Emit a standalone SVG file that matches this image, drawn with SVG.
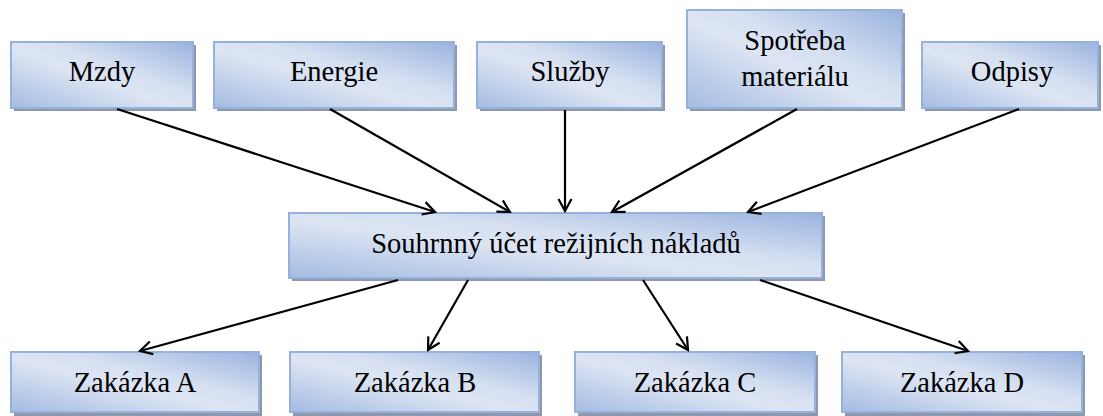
<svg xmlns="http://www.w3.org/2000/svg" width="1103" height="416" viewBox="0 0 1103 416">
<defs>
<linearGradient id="g" x1="0" y1="1" x2="1" y2="0">
<stop offset="0" stop-color="#a4bbe2"/>
<stop offset="0.45" stop-color="#dde5f3"/>
<stop offset="0.6" stop-color="#d6e0f1"/>
<stop offset="1" stop-color="#9ab3df"/>
</linearGradient>
<marker id="ah" markerUnits="userSpaceOnUse" markerWidth="16" markerHeight="16" viewBox="0 0 16 16" refX="14" refY="8" orient="auto">
<path d="M2,1.5 L14,8 L2,14.5" fill="none" stroke="#000" stroke-width="2.2"/>
</marker>
</defs>
<style>
.sh{fill:#8d98ad}
.bx{fill:url(#g);stroke:#95b1dc;stroke-width:2}
.t{font-size:28.5px;fill:#000;text-anchor:middle}
.c{stroke:#000;stroke-width:2.2;fill:none;marker-end:url(#ah)}
</style>
<rect width="1103" height="416" fill="#fff"/>
<g font-family="'Liberation Serif', 'DejaVu Serif', serif">
<g id="n-mzdy"><rect class="sh" x="14" y="45" width="182" height="66"/><rect class="bx" x="11" y="42" width="182" height="66"/><text class="t" x="102" y="81">Mzdy</text></g>
<g id="n-energie"><rect class="sh" x="217" y="45" width="240" height="66"/><rect class="bx" x="214" y="42" width="240" height="66"/><text class="t" x="334" y="81">Energie</text></g>
<g id="n-sluzby"><rect class="sh" x="480" y="45" width="185" height="66"/><rect class="bx" x="477" y="42" width="185" height="66"/><text class="t" x="570" y="81">Služby</text></g>
<g id="n-spotreba"><rect class="sh" x="690" y="13" width="215" height="98"/><rect class="bx" x="687" y="10" width="215" height="98"/><text class="t" x="795" y="50">Spotřeba</text><text class="t" x="795" y="86">materiálu</text></g>
<g id="n-odpisy"><rect class="sh" x="925" y="45" width="176" height="66"/><rect class="bx" x="922" y="42" width="176" height="66"/><text class="t" x="1012" y="81">Odpisy</text></g>
<g id="n-souhrn"><rect class="sh" x="292" y="216" width="533" height="65"/><rect class="bx" x="289" y="213" width="533" height="65"/><text class="t" x="556" y="253">Souhrnný účet režijních nákladů</text></g>
<g id="n-a"><rect class="sh" x="14" y="355" width="248" height="61"/><rect class="bx" x="11" y="352" width="248" height="60"/><text class="t" x="135" y="392">Zakázka A</text></g>
<g id="n-b"><rect class="sh" x="293" y="355" width="249" height="61"/><rect class="bx" x="290" y="352" width="249" height="60"/><text class="t" x="415" y="392">Zakázka B</text></g>
<g id="n-c"><rect class="sh" x="578" y="355" width="240" height="61"/><rect class="bx" x="575" y="352" width="240" height="60"/><text class="t" x="695" y="392">Zakázka C</text></g>
<g id="n-d"><rect class="sh" x="845" y="355" width="240" height="61"/><rect class="bx" x="842" y="352" width="240" height="60"/><text class="t" x="962" y="392">Zakázka D</text></g>
</g>
<g id="connectors">
<line class="c" x1="117" y1="109" x2="435" y2="212"/>
<line class="c" x1="330" y1="109" x2="510" y2="212"/>
<line class="c" x1="565" y1="110" x2="565" y2="211"/>
<line class="c" x1="797" y1="109" x2="612" y2="212"/>
<line class="c" x1="1019" y1="109" x2="748" y2="212"/>
<line class="c" x1="398" y1="280" x2="140" y2="351"/>
<line class="c" x1="468" y1="280" x2="428" y2="350"/>
<line class="c" x1="643" y1="280" x2="688" y2="350"/>
<line class="c" x1="760" y1="280" x2="968" y2="351"/>
</g>
</svg>
